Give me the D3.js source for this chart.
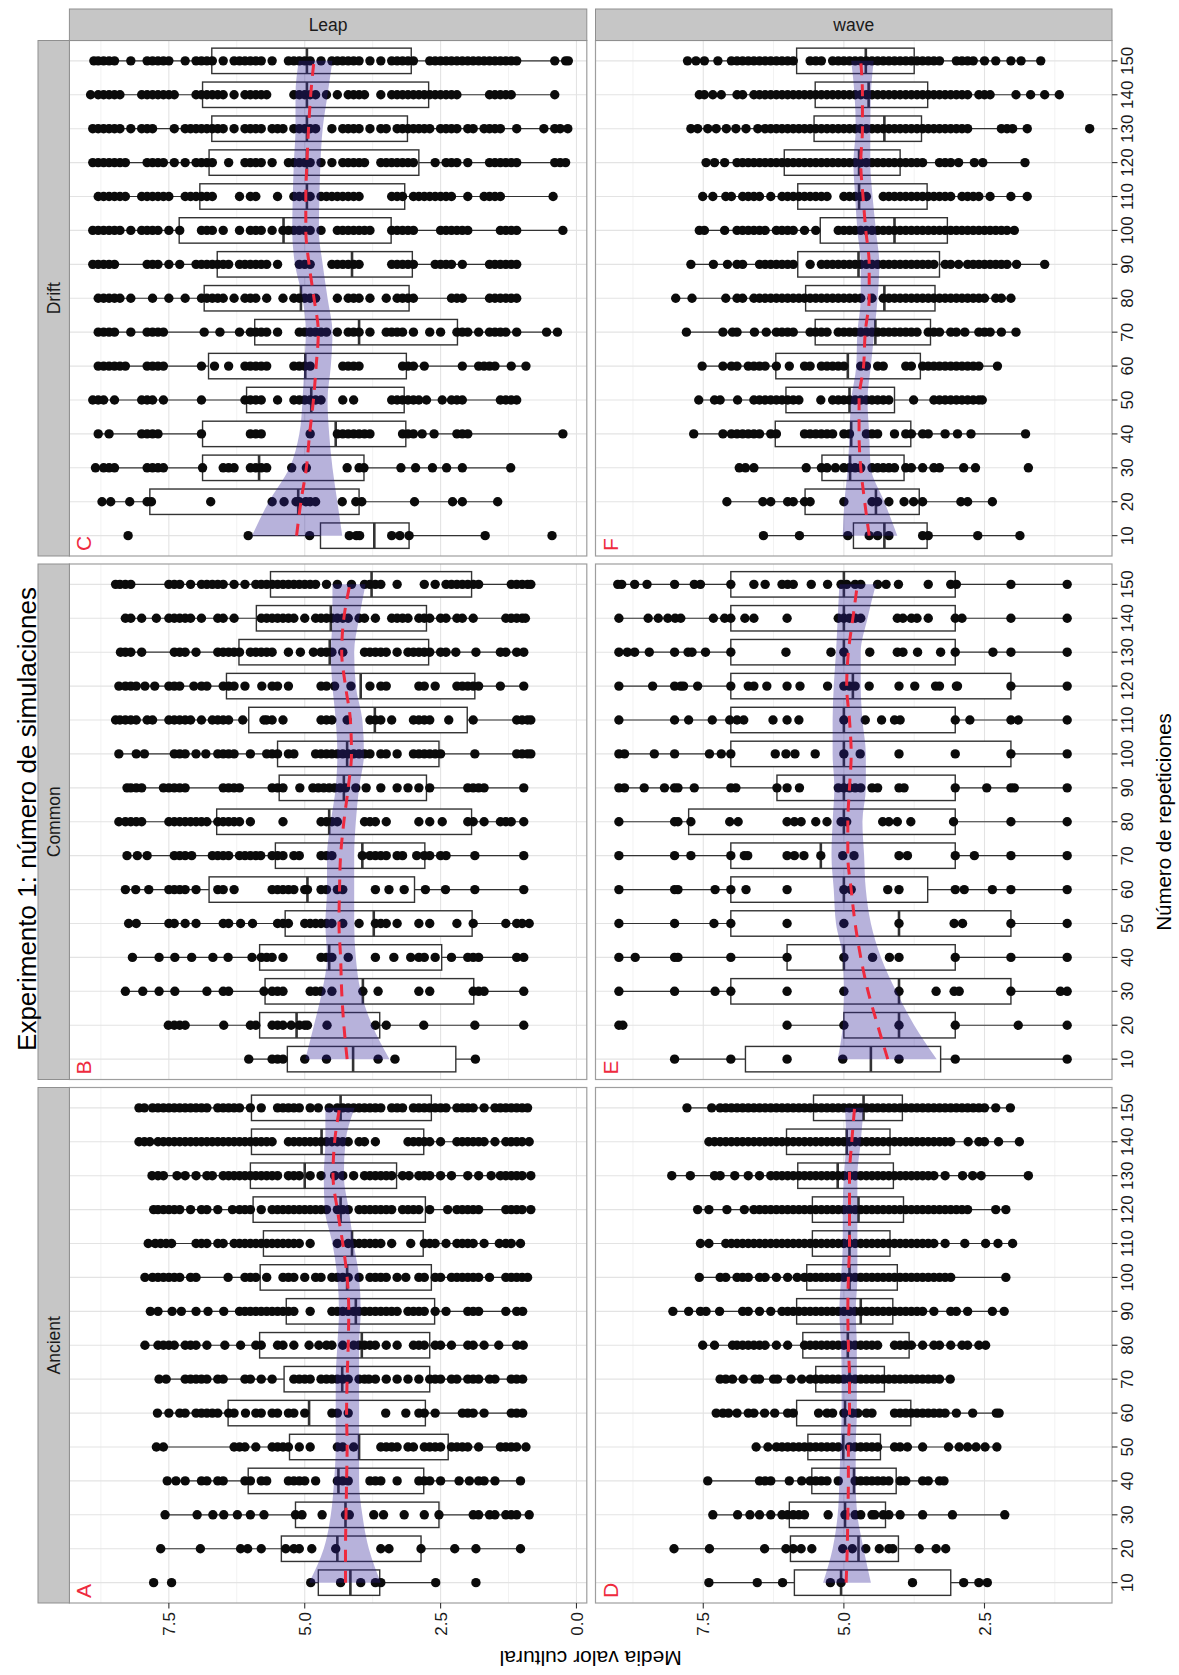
<!DOCTYPE html>
<html><head><meta charset="utf-8">
<script src="https://cdn.jsdelivr.net/npm/d3@7"></script>
<style>
body{margin:0;background:#fff}
svg{display:block}
text{font-family:"Liberation Sans",Arial,Helvetica,sans-serif}
</style>
</head><body>
<svg id="chart" width="1179" height="1675"></svg>
<script>
// ---------------- DATA ----------------
const reps = [10,20,30,40,50,60,70,80,90,100,110,120,130,140,150];
const facetCols = ["Ancient","Common","Drift"];
const facetRows = ["Leap","wave"];
const panelLetters = [["A","B","C"],["D","E","F"]];
const title = "Experimento 1: número de simulaciones";
const xTitle = "Número de repeticiones";
const yTitle = "Media valor cultural";
const leapTicks = [0,2.5,5,7.5];
const waveTicks = [2.5,5,7.5];
const leapMinor = [1.25,3.75,6.25,8.75];
const waveMinor = [1.25,3.75,6.25,8.75];

// box stats per rep: [lower whisker, Q1, median, Q3, upper whisker]
const boxA = [[2.59,3.62,4.16,4.75,4.89],[1.03,2.86,4.40,5.43,7.65],[0.87,2.53,4.25,5.17,7.57],[1.03,2.81,4.38,6.04,7.53],[0.93,2.36,4.00,5.28,7.73],[0.99,2.78,4.92,6.41,7.71],[0.99,2.70,4.31,5.38,7.68],[0.98,2.70,3.95,5.83,7.94],[0.99,2.61,4.06,5.34,7.84],[0.90,2.67,4.22,5.82,7.94],[1.03,2.82,4.13,5.76,7.88],[0.84,2.78,4.34,5.95,7.78],[0.84,3.31,5.00,6.00,7.81],[0.87,2.81,4.69,5.98,8.05],[0.87,2.67,4.34,5.98,8.05]];
const boxB = [[1.86,2.22,4.11,5.32,6.03],[0.97,3.62,5.15,5.83,7.51],[0.97,1.89,3.93,5.73,8.30],[0.97,2.48,4.55,5.83,8.17],[0.87,1.92,3.73,5.36,8.24],[0.97,2.98,4.95,6.76,8.30],[0.97,2.79,3.94,5.54,8.27],[0.97,1.93,4.55,6.62,8.42],[0.97,2.76,4.28,5.47,8.27],[0.84,2.53,4.22,5.50,8.42],[0.84,2.01,3.71,6.03,8.48],[0.97,1.87,3.97,6.44,8.42],[0.97,2.72,4.54,6.21,8.39],[0.94,2.76,4.52,5.89,8.30],[0.84,1.93,3.77,5.63,8.48]];
const boxC = [[1.68,3.08,3.72,4.71,6.04],[1.45,4.00,5.12,7.85,8.73],[1.21,3.91,5.84,6.88,8.85],[0.25,3.14,4.43,6.88,8.82],[1.05,3.17,4.88,6.07,8.91],[0.93,3.13,4.99,6.77,8.85],[0.35,2.19,4.00,5.92,8.85],[1.05,3.08,5.07,6.85,8.85],[1.05,3.02,4.13,6.61,8.91],[0.25,3.41,5.39,7.31,8.91],[0.43,3.16,4.96,6.93,8.85],[0.20,2.90,4.96,6.76,8.91],[0.16,3.11,4.96,6.71,8.91],[0.40,2.72,4.96,6.88,8.94],[0.15,3.04,4.96,6.71,8.88]];
const boxD = [[2.45,3.10,5.05,5.88,7.40],[3.19,4.03,4.74,5.95,8.02],[2.14,4.26,4.98,5.97,7.33],[3.22,4.07,4.82,5.57,7.42],[2.28,4.35,5.01,5.64,6.56],[2.24,3.81,4.98,5.84,7.27],[3.11,4.28,4.90,5.50,7.20],[2.48,3.84,4.93,5.73,7.51],[2.15,4.13,4.70,5.84,8.04],[2.12,4.05,4.90,5.66,7.57],[2.00,4.18,4.90,5.56,7.55],[2.12,3.94,4.74,5.56,7.60],[1.72,4.12,5.11,5.82,8.06],[1.88,4.18,4.95,6.02,7.40],[2.04,3.96,4.65,5.54,7.79]];
const boxE = [[1.03,3.28,4.52,6.75,8.01],[1.03,3.02,4.02,5.00,6.01],[1.03,2.03,4.02,7.01,9.00],[1.03,3.02,5.00,6.01,9.00],[1.03,2.03,4.02,7.01,9.00],[1.03,3.51,5.00,7.01,9.00],[1.03,3.02,5.41,7.01,9.00],[1.03,3.02,5.00,7.76,9.00],[1.03,3.02,5.00,6.19,9.00],[1.03,2.03,5.00,7.01,9.00],[1.03,3.02,5.00,7.01,9.00],[1.03,2.03,4.84,7.01,9.00],[1.03,3.02,5.00,7.01,9.00],[1.03,3.02,5.00,7.01,9.00],[1.03,3.02,5.00,7.01,9.02]];
const boxF = [[1.87,3.52,4.28,4.83,6.43],[2.36,3.66,4.43,5.69,7.08],[2.66,3.93,4.89,5.39,6.86],[1.77,3.81,4.87,6.22,7.67],[2.54,4.10,4.90,6.03,7.58],[2.27,3.64,4.93,6.21,7.52],[1.94,3.46,4.44,5.51,7.80],[2.03,3.38,4.28,5.68,7.99],[1.43,3.30,4.74,5.82,7.72],[1.97,3.16,4.10,5.42,7.57],[1.74,3.52,4.73,5.82,7.51],[1.78,4.00,4.73,6.06,7.45],[1.74,3.62,4.28,5.53,7.72],[1.17,3.51,4.56,5.51,7.57],[1.50,3.75,4.61,5.84,7.78]];

// individual simulation means per rep
const pointsA = [
[7.78,7.45,4.89,4.34,3.97,3.7,3.6,2.59,1.85],
[7.65,6.92,6.18,6.05,5.8,5.35,5.2,5.1,4.87,4.43,3.6,3.45,2.86,2.24,1.85,1.03],
[7.57,6.98,6.69,6.49,6.24,6.0,5.75,5.17,5.05,4.68,4.25,4.18,3.73,3.55,3.17,2.8,2.53,1.9,1.8,1.6,1.5,1.3,1.2,1.1,0.87],
[7.53,7.37,7.2,6.9,6.8,6.6,6.5,6.1,6.0,5.8,5.7,5.3,5.2,5.1,5.0,4.8,4.4,4.3,4.2,3.8,3.7,3.6,3.3,2.9,2.8,2.7,2.5,2.16,1.97,1.8,1.7,1.5,1.03],
[7.73,7.6,6.3,6.2,6.1,5.9,5.6,5.5,5.4,5.3,5.1,4.9,4.4,4.3,4.1,3.6,3.5,3.4,3.3,3.1,3.0,2.8,2.7,2.6,2.5,2.3,2.2,2.1,2.0,1.8,1.4,1.3,1.2,1.1,0.93],
[7.71,7.5,7.3,7.2,7.0,6.9,6.8,6.7,6.6,6.4,6.3,6.09,5.9,5.8,5.6,5.5,5.3,5.2,5.0,4.5,4.4,4.2,3.51,3.14,2.9,2.8,2.6,2.1,2.0,1.9,1.7,1.2,1.1,0.99],
[7.68,7.55,7.2,7.1,7.0,6.9,6.8,6.6,6.5,6.1,6.0,5.8,5.6,5.2,5.1,5.0,4.9,4.7,4.6,4.5,4.4,4.3,4.2,4.0,3.9,3.82,3.7,3.5,3.3,3.1,2.9,2.7,2.6,2.5,2.3,2.2,2.0,1.9,1.8,1.6,1.5,1.2,1.1,0.99],
[7.94,7.7,7.6,7.5,7.4,7.2,7.1,7.0,6.8,6.47,6.18,5.9,5.8,5.5,5.4,5.2,4.92,4.74,4.6,4.5,4.3,4.1,4.0,3.9,3.8,3.7,3.5,3.3,3.0,2.9,2.8,2.6,2.5,2.3,2.0,1.9,1.7,1.43,1.1,0.98],
[7.84,7.7,7.44,7.27,7.0,6.78,6.49,6.2,6.1,6.0,5.9,5.8,5.7,5.6,5.5,5.4,5.3,5.2,4.9,4.5,4.4,4.3,4.2,4.1,4.0,3.9,3.8,3.7,3.6,3.5,3.4,3.3,3.1,3.0,2.9,2.8,2.6,2.4,2.0,1.9,1.8,1.3,1.1,0.99],
[7.94,7.8,7.7,7.6,7.5,7.4,7.3,7.1,7.0,6.41,6.1,6.0,5.9,5.7,5.4,5.3,5.2,5.0,4.8,4.7,4.5,4.4,4.3,4.2,4.0,3.8,3.7,3.6,3.5,3.3,3.14,2.9,2.8,2.6,2.5,2.3,2.2,2.1,2.0,1.9,1.8,1.6,1.3,1.2,1.1,1.0,0.9],
[7.88,7.75,7.65,7.55,7.45,7.0,6.9,6.8,6.6,6.5,6.3,6.2,6.1,6.0,5.9,5.8,5.7,5.6,5.5,5.4,5.3,5.2,5.1,4.9,4.4,4.2,4.1,4.0,3.9,3.8,3.7,3.6,3.4,3.05,2.8,2.7,2.6,2.4,2.2,2.1,2.0,1.9,1.7,1.42,1.3,1.2,1.03],
[7.78,7.7,7.6,7.5,7.4,7.3,7.1,6.9,6.8,6.6,6.33,6.2,6.1,6.0,5.8,5.6,5.5,5.4,5.3,5.2,5.1,5.0,4.9,4.8,4.7,4.6,4.4,4.3,4.2,4.0,3.9,3.8,3.7,3.6,3.5,3.4,3.2,3.1,3.0,2.9,2.7,2.37,2.2,2.1,2.0,1.9,1.8,1.3,1.2,1.1,1.0,0.84],
[7.81,7.7,7.6,7.35,7.2,7.0,6.8,6.7,6.5,6.4,6.3,6.2,6.1,6.0,5.9,5.8,5.7,5.6,5.5,5.3,5.2,5.1,4.9,4.7,4.45,4.3,4.1,3.9,3.8,3.7,3.6,3.5,3.4,3.2,3.08,2.9,2.8,2.7,2.5,2.3,2.0,1.8,1.57,1.4,1.3,1.2,1.1,1.0,0.84],
[8.05,7.95,7.85,7.7,7.6,7.5,7.4,7.3,7.2,7.1,7.0,6.9,6.8,6.7,6.6,6.5,6.4,6.3,6.2,6.1,6.0,5.9,5.8,5.7,5.6,5.3,5.2,5.1,5.0,4.9,4.8,4.7,4.6,4.5,4.4,4.3,4.2,4.0,3.9,3.7,3.1,3.0,2.9,2.8,2.7,2.5,2.2,2.1,2.0,1.9,1.8,1.7,1.5,1.3,1.2,1.1,1.0,0.87],
[8.05,7.95,7.8,7.7,7.6,7.5,7.4,7.3,7.2,7.1,7.0,6.9,6.8,6.6,6.5,6.4,6.3,6.2,6.0,5.8,5.5,5.4,5.3,5.2,5.1,4.9,4.75,4.55,4.4,4.3,4.2,4.1,4.0,3.9,3.8,3.7,3.6,3.4,3.3,3.2,3.0,2.9,2.8,2.7,2.6,2.5,2.4,2.2,2.1,2.0,1.9,1.7,1.5,1.4,1.3,1.2,1.1,1.0,0.9]
];
const pointsB = [
[6.03,5.6,5.5,5.4,5.0,4.6,3.65,3.34,1.86],
[7.51,7.4,7.3,7.2,6.49,6.0,5.9,5.6,5.5,5.4,5.25,5.1,5.0,4.95,4.59,3.7,3.5,2.81,1.87,0.97],
[8.3,7.98,7.68,7.39,6.8,6.5,6.4,5.75,5.6,5.5,5.4,4.9,4.8,4.7,4.5,3.93,3.65,2.9,2.7,1.9,1.8,1.7,0.97],
[8.17,7.68,7.39,7.08,6.69,6.41,5.97,5.8,5.7,5.6,5.4,4.7,4.6,4.5,4.2,3.7,3.36,3.05,2.9,2.8,2.6,2.3,2.0,1.9,1.8,1.1,0.97],
[8.24,8.1,7.5,7.4,7.2,7.0,6.5,6.4,6.18,5.96,5.5,5.4,5.3,5.0,4.9,4.8,4.7,4.6,4.5,4.3,4.0,3.7,3.6,3.5,3.3,2.9,2.7,2.2,1.9,1.3,1.1,1.0,0.87],
[8.3,8.11,7.87,7.5,7.4,7.3,7.2,7.0,6.6,6.5,6.3,5.6,5.5,5.4,5.3,5.2,5.0,4.95,4.7,4.6,4.4,4.3,3.7,3.45,3.17,2.78,2.41,1.87,0.97],
[8.27,8.08,7.9,7.4,7.3,7.2,7.08,6.7,6.6,6.5,6.4,6.2,6.1,6.0,5.9,5.81,5.6,5.5,5.4,5.2,5.1,4.7,4.6,4.5,3.94,3.8,3.7,3.6,3.5,3.3,3.2,2.94,2.8,2.7,2.5,2.4,1.87,0.97],
[8.42,8.3,8.2,8.1,8.0,7.5,7.4,7.3,7.2,7.1,7.0,6.9,6.8,6.6,6.5,6.4,6.3,6.2,6.0,5.4,4.7,4.6,4.5,4.4,3.9,3.8,3.7,3.5,2.9,2.7,2.47,2.0,1.9,1.7,1.4,1.3,1.2,0.97],
[8.27,8.2,8.1,8.0,7.6,7.5,7.4,7.3,7.2,6.5,6.4,6.3,6.2,5.6,5.5,5.4,5.09,4.85,4.75,4.65,4.55,4.45,4.35,4.25,4.06,3.87,3.6,3.3,3.1,2.9,2.7,2.0,1.9,1.8,1.7,0.97],
[8.42,8.1,7.95,7.4,7.3,7.2,7.0,6.82,6.6,6.5,6.4,6.3,6.0,5.7,5.6,5.5,5.3,5.2,4.8,4.7,4.6,4.5,4.4,4.3,4.2,4.1,4.0,3.9,3.8,3.6,3.5,3.3,3.0,2.9,2.8,2.7,2.6,2.5,1.87,1.1,1.0,0.9,0.84],
[8.48,8.4,8.3,8.2,8.1,7.9,7.8,7.5,7.4,7.3,7.2,7.1,6.9,6.7,6.6,6.5,6.4,6.14,5.75,5.7,5.6,5.4,4.7,4.6,4.5,4.22,3.8,3.7,3.6,3.4,3.0,2.9,2.8,2.7,2.35,1.9,1.1,1.0,0.9,0.84],
[8.42,8.3,8.2,8.1,7.94,7.76,7.5,7.4,7.3,7.04,6.9,6.8,6.5,6.4,6.3,6.1,5.79,5.6,5.5,5.3,4.7,4.6,4.45,4.15,3.8,3.6,3.5,2.9,2.8,2.6,2.2,2.1,2.0,1.9,1.8,1.4,0.97],
[8.39,8.3,8.2,8.0,7.4,7.3,7.2,7.0,6.6,6.5,6.4,6.3,6.2,6.0,5.9,5.8,5.7,5.6,5.3,5.08,4.84,4.7,4.6,4.5,4.3,3.9,3.8,3.7,3.6,3.5,3.3,3.1,3.0,2.9,2.8,2.7,2.5,2.4,2.22,1.85,1.4,1.3,1.1,0.97],
[8.3,8.2,8.0,7.73,7.5,7.4,7.3,7.2,7.1,6.9,6.6,6.5,6.3,5.8,5.7,5.6,5.5,5.4,5.3,5.2,5.0,4.8,4.7,4.6,4.5,4.4,4.3,4.2,4.0,3.9,3.7,3.4,3.3,3.2,3.1,2.9,2.8,2.7,2.5,2.4,2.2,2.1,1.9,1.3,1.2,1.1,1.0,0.94],
[8.48,8.4,8.3,8.2,7.5,7.4,7.3,7.1,6.9,6.8,6.7,6.6,6.5,6.3,6.1,5.9,5.8,5.7,5.6,5.5,5.4,5.3,5.2,5.1,5.0,4.9,4.8,4.6,4.4,4.14,3.9,3.8,3.7,3.6,3.3,2.8,2.6,2.4,2.3,2.2,2.1,2.0,1.9,1.8,1.2,1.1,1.0,0.9,0.84]
];
const pointsC = [
[8.25,6.04,4.91,4.18,4.05,3.99,3.4,3.25,3.08,1.68,0.45],
[8.73,8.57,8.22,7.9,7.82,6.73,5.6,5.38,5.16,5.1,4.98,4.9,4.8,4.31,4.06,3.95,2.98,2.28,2.1,1.45],
[8.85,8.7,8.6,8.5,7.9,7.8,7.7,7.6,6.88,6.5,6.4,6.3,6.0,5.9,5.8,5.7,5.24,4.97,4.22,4.0,3.91,3.23,2.96,2.65,2.39,2.1,1.21],
[8.8,8.6,8.0,7.9,7.8,7.7,6.9,6.0,5.9,5.8,4.9,4.4,4.3,4.2,4.1,4.0,3.9,3.8,3.2,3.1,3.0,2.84,2.62,2.2,2.1,2.0,0.25],
[8.9,8.8,8.7,8.5,8.0,7.9,7.8,7.6,6.9,6.1,6.0,5.9,5.8,5.5,5.2,5.1,5.0,4.9,4.8,4.7,4.3,4.1,3.4,3.3,3.2,3.1,3.0,2.9,2.76,2.47,2.3,2.2,2.1,1.4,1.3,1.2,1.1],
[8.8,8.7,8.6,8.5,8.4,8.3,7.9,7.8,7.7,7.6,6.9,6.66,6.4,6.1,6.0,5.9,5.8,5.7,5.2,5.1,5.0,4.9,4.3,4.2,4.1,4.0,3.2,3.1,3.0,2.8,2.1,1.8,1.7,1.6,1.5,1.2,0.93],
[8.8,8.7,8.6,8.5,8.2,7.9,7.8,7.7,7.6,6.85,6.56,6.2,6.0,5.9,5.8,5.7,5.5,5.1,5.0,4.9,4.8,4.7,4.6,4.4,4.2,4.1,4.0,3.8,3.5,3.4,3.3,3.2,3.0,2.7,2.5,2.2,2.1,2.0,1.8,1.6,1.5,1.4,1.3,1.1,0.55,0.35],
[8.8,8.7,8.6,8.5,8.4,8.2,7.8,7.5,7.2,6.9,6.8,6.7,6.6,6.5,6.3,6.1,6.0,5.9,5.7,5.4,5.2,5.1,5.0,4.9,4.8,4.4,4.2,4.1,4.0,3.8,3.5,3.3,3.2,3.1,3.0,2.3,2.2,2.1,1.6,1.5,1.4,1.3,1.2,1.1],
[8.9,8.8,8.7,8.6,8.5,7.9,7.8,7.7,7.5,7.3,7.0,6.9,6.8,6.7,6.6,6.5,6.4,6.2,6.1,6.0,5.9,5.8,5.7,5.5,5.1,5.0,4.9,4.5,4.4,4.3,4.2,4.1,4.0,3.4,3.3,3.2,3.1,3.0,2.6,2.5,2.4,2.3,2.1,1.6,1.5,1.4,1.3,1.2,1.1],
[8.9,8.8,8.7,8.6,8.5,8.4,8.2,8.0,7.9,7.8,7.7,7.5,7.3,6.9,6.8,6.7,6.5,6.2,6.0,5.9,5.8,5.6,5.4,5.3,5.2,5.1,5.0,4.9,4.7,4.4,4.3,4.2,4.1,4.0,3.9,3.8,3.4,3.3,3.2,3.1,3.0,2.5,2.4,2.3,2.2,2.1,2.0,1.4,1.3,1.2,1.1,0.25],
[8.8,8.7,8.6,8.5,8.4,8.3,8.0,7.9,7.8,7.7,7.6,7.5,7.2,7.1,7.0,6.9,6.8,6.7,6.2,6.0,5.9,5.5,5.2,5.1,5.0,4.9,4.7,4.6,4.5,4.4,4.3,4.2,4.1,4.0,3.4,3.3,3.2,3.0,2.9,2.8,2.7,2.6,2.5,2.4,2.3,2.0,1.7,1.6,1.5,1.4,0.43],
[8.9,8.8,8.7,8.6,8.5,8.4,8.3,7.9,7.8,7.7,7.6,7.4,7.2,7.0,6.9,6.8,6.7,6.4,6.1,6.0,5.9,5.8,5.6,5.3,5.2,5.1,5.0,4.9,4.7,4.5,4.3,4.2,4.1,4.0,3.9,3.6,3.5,3.4,3.3,3.2,3.1,3.0,2.6,2.4,2.3,2.2,2.0,1.6,1.5,1.4,1.3,1.2,1.1,0.4,0.3,0.2],
[8.9,8.8,8.7,8.6,8.5,8.4,8.2,8.0,7.9,7.8,7.4,7.2,7.1,7.0,6.9,6.8,6.7,6.6,6.5,6.3,6.1,6.0,5.9,5.8,5.6,5.5,5.4,5.2,5.1,5.0,4.9,4.8,4.5,4.3,4.2,4.1,4.0,3.8,3.6,3.5,3.3,3.2,3.1,3.0,2.9,2.8,2.7,2.5,2.4,2.3,2.2,2.0,1.9,1.7,1.6,1.5,1.4,1.1,0.6,0.4,0.3,0.16],
[8.94,8.8,8.7,8.6,8.5,8.4,8.0,7.9,7.8,7.7,7.6,7.5,7.4,7.0,6.9,6.8,6.7,6.6,6.5,6.3,6.1,6.0,5.9,5.8,5.7,5.2,5.1,5.0,4.9,4.8,4.6,4.4,4.2,4.1,4.0,3.9,3.6,3.4,3.3,3.2,3.1,3.0,2.9,2.8,2.7,2.6,2.5,2.4,2.3,2.2,1.6,1.5,1.4,1.3,1.2,0.4],
[8.88,8.8,8.7,8.6,8.5,8.2,7.9,7.8,7.7,7.6,7.5,7.2,7.0,6.9,6.8,6.7,6.5,6.3,6.2,6.1,6.0,5.9,5.8,5.6,5.3,5.2,5.1,5.0,4.9,4.7,4.5,4.4,4.3,4.2,4.1,4.0,3.8,3.6,3.4,3.3,3.2,3.1,3.0,2.7,2.6,2.5,2.4,2.3,2.2,2.1,2.0,1.9,1.8,1.7,1.6,1.5,1.4,1.3,1.2,1.1,0.4,0.2,0.15]
];
const pointsD = [
[7.4,6.54,6.09,5.24,5.05,3.78,2.87,2.6,2.45],
[8.02,7.39,6.41,6.03,5.9,5.76,5.57,5.02,4.85,4.61,4.37,4.2,4.13,3.66,3.36,3.19],
[7.33,6.89,6.67,6.5,6.3,6.1,6.0,5.9,5.8,5.7,5.28,4.98,4.8,4.7,4.5,4.45,4.3,4.2,4.0,3.6,3.07,2.14],
[7.42,6.5,6.4,6.3,5.97,5.75,5.6,5.5,5.4,5.3,5.1,4.8,4.7,4.6,4.5,4.4,4.3,4.2,4.0,3.9,3.6,3.5,3.3,3.22],
[6.56,6.35,6.2,6.1,6.0,5.9,5.8,5.7,5.6,5.5,5.4,5.3,5.2,5.1,4.9,4.8,4.7,4.6,4.5,4.4,4.1,4.0,3.87,3.6,3.14,2.95,2.8,2.65,2.49,2.28],
[7.27,7.15,7.05,6.9,6.7,6.6,6.41,6.23,6.0,5.9,5.45,5.3,5.2,5.0,4.85,4.75,4.6,4.5,4.1,4.0,3.9,3.8,3.7,3.6,3.5,3.4,3.3,3.2,3.0,2.71,2.29,2.24],
[7.2,7.1,6.98,6.79,6.58,6.5,6.25,6.18,5.94,5.75,5.6,5.5,5.4,5.3,5.2,5.1,5.0,4.9,4.8,4.7,4.6,4.5,4.4,4.3,4.2,4.1,4.0,3.9,3.8,3.7,3.6,3.5,3.4,3.3,3.11],
[7.51,7.3,6.98,6.9,6.8,6.7,6.6,6.5,6.4,6.2,6.0,5.7,5.6,5.5,5.4,5.3,5.2,5.1,5.0,4.9,4.8,4.7,4.6,4.5,4.4,4.1,4.0,3.9,3.8,3.6,3.4,3.3,3.1,2.9,2.8,2.6,2.48],
[8.04,7.76,7.55,7.45,7.21,6.8,6.7,6.5,6.3,6.1,6.0,5.9,5.8,5.7,5.6,5.5,5.4,5.3,5.2,5.1,5.0,4.9,4.8,4.7,4.6,4.5,4.4,4.3,4.2,4.1,4.0,3.9,3.8,3.7,3.6,3.4,3.1,3.0,2.8,2.36,2.15],
[7.57,7.2,7.1,6.9,6.8,6.7,6.5,6.4,6.2,6.0,5.83,5.7,5.6,5.5,5.4,5.3,5.2,5.1,5.0,4.9,4.8,4.7,4.6,4.5,4.4,4.3,4.2,4.1,4.0,3.9,3.8,3.7,3.6,3.5,3.4,3.3,3.2,3.1,2.12],
[7.55,7.4,7.1,7.0,6.9,6.8,6.7,6.6,6.5,6.4,6.3,6.2,6.1,6.0,5.9,5.8,5.7,5.6,5.5,5.4,5.3,5.2,5.1,5.0,4.9,4.8,4.7,4.6,4.5,4.4,4.3,4.2,4.1,4.0,3.9,3.8,3.7,3.6,3.5,3.4,3.2,2.85,2.48,2.26,2.0],
[7.6,7.4,7.08,6.77,6.6,6.5,6.4,6.3,6.2,6.1,6.0,5.9,5.8,5.7,5.6,5.5,5.4,5.3,5.2,5.1,5.0,4.9,4.8,4.7,4.6,4.5,4.4,4.3,4.2,4.1,4.0,3.9,3.8,3.7,3.6,3.5,3.4,3.3,3.2,3.1,3.0,2.9,2.8,2.3,2.12],
[8.06,7.73,7.3,7.2,6.94,6.7,6.5,6.3,6.2,6.1,6.0,5.9,5.8,5.7,5.6,5.5,5.4,5.3,5.2,5.1,5.0,4.9,4.8,4.7,4.6,4.5,4.4,4.3,4.2,4.1,4.0,3.9,3.8,3.7,3.6,3.5,3.4,3.2,2.89,2.71,2.56,1.72],
[7.4,7.3,7.2,7.1,7.0,6.9,6.8,6.7,6.6,6.5,6.4,6.3,6.2,6.1,6.0,5.9,5.8,5.7,5.6,5.5,5.4,5.3,5.2,5.1,5.0,4.9,4.8,4.7,4.6,4.5,4.4,4.3,4.2,4.1,4.0,3.9,3.8,3.7,3.6,3.5,3.4,3.3,3.2,3.1,2.79,2.6,2.5,2.25,1.88],
[7.79,7.35,7.2,7.1,7.0,6.9,6.8,6.7,6.6,6.5,6.4,6.3,6.2,6.1,6.0,5.9,5.8,5.7,5.6,5.5,5.4,5.3,5.2,5.1,5.0,4.9,4.8,4.7,4.6,4.5,4.4,4.3,4.2,4.1,4.0,3.9,3.8,3.7,3.6,3.5,3.4,3.3,3.2,3.1,3.0,2.9,2.8,2.7,2.6,2.5,2.3,2.04]
];
const pointsE = [
[8.01,7.01,6.01,5.02,4.02,3.02,1.03],
[9.0,8.93,6.01,5.0,4.02,3.02,1.9,1.03],
[9.0,8.01,7.29,7.01,6.01,5.0,4.02,3.36,3.04,2.95,2.03,1.15,1.03],
[9.0,8.71,8.01,7.95,7.01,6.01,5.0,4.49,4.19,4.02,3.02,2.03,1.03],
[9.0,8.01,7.31,7.01,6.01,5.0,4.02,3.04,2.89,2.03,1.03],
[9.0,8.01,7.95,7.29,7.01,6.74,6.01,5.0,4.87,4.22,4.02,3.02,2.86,2.36,2.03,1.03],
[9.0,8.01,7.72,7.01,6.77,6.71,6.01,5.88,5.71,5.41,5.02,4.82,4.02,3.87,3.02,2.68,2.03,1.03],
[9.0,8.01,7.95,7.72,7.03,6.88,6.01,5.88,5.76,5.5,5.3,5.05,4.95,4.31,4.2,4.05,3.81,3.05,2.03,1.03],
[9.0,8.9,8.55,8.19,8.01,7.95,7.66,7.01,6.92,6.19,6.01,5.79,5.1,5.0,4.9,4.8,4.7,4.5,4.4,4.02,3.93,3.02,2.46,2.03,1.97,1.03],
[9.0,8.9,8.37,8.01,7.39,7.18,7.01,6.22,6.03,5.87,5.51,5.0,4.71,4.02,3.02,2.03,1.03],
[9.0,8.01,7.76,7.34,7.03,6.9,6.78,6.26,6.01,5.8,5.0,4.62,4.33,4.1,4.0,3.02,2.76,2.03,1.9,1.03],
[9.0,8.4,8.01,7.9,7.85,7.6,7.01,6.7,6.6,6.37,6.01,5.78,5.29,5.0,4.9,4.8,4.55,4.02,3.74,3.37,3.3,3.0,2.98,2.03,1.03],
[9.0,8.85,8.72,8.46,8.01,7.77,7.7,7.46,7.01,6.03,5.23,5.0,4.54,4.05,3.95,3.69,3.28,3.02,2.35,2.03,1.03],
[9.0,8.48,8.3,8.13,8.0,7.9,7.32,7.12,7.01,6.76,6.6,6.01,5.1,5.0,4.9,4.8,4.7,4.05,3.95,3.8,3.7,3.5,3.02,2.9,2.03,1.03],
[9.02,8.95,8.72,8.5,8.01,7.66,7.55,7.01,6.6,6.4,6.1,6.0,5.9,5.58,5.29,5.05,4.95,4.8,4.7,4.4,4.25,4.03,3.5,3.1,3.0,2.03,1.03]
];
const pointsF = [
[6.43,5.79,4.93,4.55,4.4,4.2,3.6,3.5,2.62,1.87],
[7.08,6.44,6.3,6.0,5.9,5.7,5.6,5.0,4.5,4.4,4.2,3.93,3.76,3.6,2.92,2.8,2.36],
[6.86,6.75,6.6,5.67,5.4,5.3,5.15,5.0,4.9,4.8,4.7,4.5,4.4,4.3,4.2,4.1,3.9,3.8,3.6,3.4,3.3,2.87,2.66,1.72],
[7.67,7.15,7.0,6.9,6.8,6.7,6.6,6.5,6.3,6.2,5.7,5.6,5.5,5.4,5.3,5.2,5.0,4.9,4.6,4.5,4.4,4.1,3.9,3.8,3.6,3.5,3.2,2.98,2.74,1.77],
[7.58,7.3,7.2,6.89,6.6,6.5,6.4,6.3,6.2,6.1,6.0,5.9,5.8,5.41,5.2,5.1,5.0,4.9,4.8,4.7,4.6,4.5,4.4,4.3,4.2,3.76,3.4,3.3,3.2,3.1,3.0,2.9,2.8,2.7,2.6,2.54],
[7.52,7.15,7.0,6.9,6.7,6.6,6.5,6.4,6.2,5.97,5.7,5.6,5.4,5.3,5.2,5.1,5.0,4.7,4.6,4.4,4.3,3.9,3.8,3.6,3.5,3.4,3.3,3.2,3.1,3.0,2.9,2.8,2.7,2.6,2.27],
[7.8,7.15,6.98,6.9,6.59,6.38,6.2,6.1,6.0,5.9,5.6,5.5,5.4,5.3,5.1,5.0,4.9,4.8,4.7,4.6,4.5,4.4,4.3,4.2,4.1,4.0,3.9,3.8,3.7,3.5,3.4,3.3,3.1,3.0,2.85,2.6,2.5,2.4,2.2,1.94],
[7.99,7.7,7.1,6.9,6.8,6.6,6.5,6.4,6.3,6.2,6.1,6.0,5.9,5.8,5.7,5.6,5.5,5.4,5.3,5.2,5.1,5.0,4.9,4.8,4.7,4.5,4.3,4.2,4.1,4.0,3.9,3.8,3.7,3.6,3.5,3.4,3.3,3.2,3.1,3.0,2.9,2.8,2.7,2.6,2.5,2.3,2.2,2.03],
[7.72,7.32,7.07,6.9,6.8,6.5,6.4,6.3,6.2,6.1,6.0,5.9,5.6,5.4,5.3,5.2,5.1,5.0,4.9,4.8,4.7,4.6,4.5,4.4,4.3,4.2,4.1,4.0,3.9,3.8,3.7,3.6,3.5,3.4,3.2,3.1,2.96,2.8,2.7,2.6,2.5,2.4,2.3,2.2,2.1,1.93,1.43],
[7.57,7.48,7.12,6.9,6.8,6.7,6.6,6.5,6.4,6.2,6.1,6.0,5.9,5.7,5.5,5.1,5.0,4.9,4.8,4.7,4.6,4.5,4.4,4.3,4.2,4.1,4.0,3.9,3.8,3.7,3.6,3.5,3.4,3.3,3.2,3.1,3.0,2.9,2.8,2.7,2.6,2.5,2.4,2.3,2.2,2.1,1.97],
[7.51,7.33,7.1,7.0,6.8,6.7,6.6,6.5,6.3,6.1,6.0,5.9,5.8,5.7,5.6,5.5,5.4,5.3,5.0,4.9,4.8,4.7,4.6,4.3,4.2,4.1,4.0,3.9,3.8,3.7,3.6,3.5,3.4,3.3,3.2,3.1,2.9,2.8,2.7,2.6,2.4,2.03,1.74],
[7.45,7.3,7.12,6.9,6.8,6.7,6.6,6.5,6.4,6.3,6.2,6.1,6.0,5.9,5.8,5.7,5.6,5.5,5.4,5.3,5.2,5.1,5.0,4.9,4.8,4.7,4.6,4.5,4.4,4.3,4.2,4.1,4.0,3.9,3.8,3.7,3.6,3.3,3.2,3.1,2.96,2.68,2.53,1.78],
[7.72,7.6,7.42,7.27,7.09,6.92,6.74,6.53,6.4,6.3,6.2,6.1,6.0,5.9,5.8,5.7,5.6,5.5,5.4,5.3,5.2,5.1,5.0,4.9,4.8,4.7,4.6,4.5,4.4,4.3,4.2,4.1,4.0,3.9,3.8,3.7,3.6,3.5,3.4,3.3,3.2,3.1,3.0,2.9,2.8,2.2,2.1,2.0,1.74,0.63],
[7.57,7.48,7.33,7.18,6.9,6.8,6.6,6.5,6.4,6.3,6.2,6.1,6.0,5.9,5.8,5.7,5.6,5.5,5.4,5.3,5.2,5.1,5.0,4.9,4.8,4.7,4.6,4.5,4.4,4.3,4.2,4.1,4.0,3.9,3.8,3.7,3.6,3.5,3.4,3.3,3.2,3.1,3.0,2.9,2.8,2.6,2.5,2.4,1.94,1.68,1.43,1.17],
[7.78,7.63,7.48,7.24,7.0,6.9,6.8,6.7,6.6,6.5,6.4,6.3,6.2,6.1,6.0,5.9,5.6,5.5,5.4,5.2,5.1,5.0,4.9,4.8,4.7,4.6,4.5,4.4,4.3,4.2,4.1,4.0,3.9,3.8,3.7,3.6,3.5,3.4,3.3,3.0,2.9,2.8,2.7,2.5,2.3,2.03,1.85,1.5]
];

// smoothed trend (loess fit) with its confidence band, per rep
const fitA = [4.25,4.25,4.24,4.23,4.22,4.23,4.22,4.20,4.19,4.22,4.30,4.40,4.48,4.45,4.36];
const lowA = [3.60,3.82,3.94,4.00,4.00,4.00,4.00,4.00,3.97,4.00,4.10,4.19,4.28,4.25,4.08];
const highA = [4.92,4.65,4.52,4.46,4.43,4.43,4.43,4.40,4.37,4.40,4.49,4.63,4.65,4.62,4.62];
const fitB = [4.22,4.28,4.32,4.34,4.37,4.36,4.34,4.28,4.20,4.14,4.16,4.25,4.32,4.28,4.17];
const lowB = [3.44,3.76,3.97,4.06,4.09,4.09,4.09,4.06,4.00,3.91,3.94,4.06,4.09,4.00,3.88];
const highB = [4.99,4.83,4.68,4.59,4.62,4.59,4.59,4.52,4.43,4.40,4.43,4.49,4.52,4.49,4.49];
const fitC = [5.15,5.07,4.97,4.91,4.84,4.79,4.75,4.83,4.92,4.98,4.98,4.96,4.93,4.89,4.83];
const lowC = [4.31,4.40,4.49,4.55,4.58,4.52,4.49,4.58,4.67,4.74,4.73,4.71,4.67,4.58,4.49];
const highC = [5.97,5.66,5.28,5.10,5.04,5.01,4.98,5.04,5.18,5.23,5.22,5.20,5.17,5.17,5.11];
const fitD = [4.96,4.94,4.93,4.92,4.92,4.90,4.90,4.92,4.93,4.92,4.90,4.90,4.90,4.86,4.81];
const lowD = [4.52,4.65,4.76,4.79,4.79,4.77,4.77,4.77,4.79,4.76,4.76,4.76,4.76,4.70,4.65];
const highD = [5.37,5.20,5.11,5.08,5.06,5.04,5.04,5.05,5.08,5.05,5.02,5.02,5.00,4.96,4.98];
const fitE = [4.22,4.40,4.57,4.70,4.80,4.87,4.93,4.93,4.90,4.87,4.90,4.95,4.92,4.84,4.76];
const lowE = [3.35,3.75,4.07,4.34,4.52,4.61,4.64,4.67,4.61,4.61,4.67,4.70,4.70,4.58,4.43];
const highE = [5.11,5.02,5.00,5.02,5.14,5.18,5.22,5.20,5.17,5.20,5.20,5.18,5.14,5.11,5.08];
const fitF = [4.55,4.63,4.70,4.73,4.73,4.65,4.62,4.55,4.55,4.61,4.66,4.70,4.67,4.67,4.70];
const lowF = [4.05,4.28,4.52,4.55,4.58,4.52,4.46,4.40,4.37,4.43,4.49,4.53,4.53,4.52,4.47];
const highF = [5.02,4.99,4.93,4.90,4.87,4.78,4.76,4.70,4.70,4.76,4.80,4.83,4.79,4.81,4.87];

// ---------------- LAYOUT (unrotated frame, then rotated -90deg) ----------------
const W = 1675, H = 1179;
const colX = [[72,587.5],[595.5,1111],[1119,1634.5]];
const rowY = [[69.4,586.8],[595.5,1112]];
const yDomains = [[-0.19,9.33],[0.233,9.416]];
const rowTicks = [leapTicks, waveTicks];
const rowMinor = [leapMinor, waveMinor];

const panels = [
  {c:0,r:0,box:boxA,pts:pointsA,fit:fitA,lo:lowA,hi:highA},
  {c:1,r:0,box:boxB,pts:pointsB,fit:fitB,lo:lowB,hi:highB},
  {c:2,r:0,box:boxC,pts:pointsC,fit:fitC,lo:lowC,hi:highC},
  {c:0,r:1,box:boxD,pts:pointsD,fit:fitD,lo:lowD,hi:highD},
  {c:1,r:1,box:boxE,pts:pointsE,fit:fitE,lo:lowE,hi:highE},
  {c:2,r:1,box:boxF,pts:pointsF,fit:fitF,lo:lowF,hi:highF}
];

const svg = d3.select("#chart");
svg.append("rect").attr("width",1179).attr("height",1675).attr("fill","#fff");
const g = svg.append("g").attr("transform",`translate(0,${W}) rotate(-90)`);

const xScales = colX.map(([a,b]) => d3.scalePoint().domain(reps).range([a,b]).padding(0.6));
const yScales = rowY.map(([a,b],i) => d3.scaleLinear().domain(yDomains[i]).range([b,a]));

const INK = "#333333";
const RED = "#ee2a3e";

panels.forEach(p => {
  const xs = xScales[p.c], ys = yScales[p.r];
  const [x0,x1] = colX[p.c], [y0,y1] = rowY[p.r];
  const pg = g.append("g");
  pg.append("rect").attr("x",x0).attr("y",y0).attr("width",x1-x0).attr("height",y1-y0).attr("fill","#fff");
  pg.selectAll(".mn").data(rowMinor[p.r].filter(v => ys(v) > y0 && ys(v) < y1)).enter().append("line")
    .attr("x1",x0).attr("x2",x1).attr("y1",d=>ys(d)).attr("y2",d=>ys(d))
    .attr("stroke","#f2f2f2").attr("stroke-width",1);
  pg.selectAll(".mj").data(rowTicks[p.r]).enter().append("line")
    .attr("x1",x0).attr("x2",x1).attr("y1",d=>ys(d)).attr("y2",d=>ys(d))
    .attr("stroke","#e3e3e3").attr("stroke-width",1.1);
  pg.selectAll(".vg").data(reps).enter().append("line")
    .attr("x1",d=>xs(d)).attr("x2",d=>xs(d)).attr("y1",y0).attr("y2",y1)
    .attr("stroke","#e3e3e3").attr("stroke-width",1.1);

  const hw = xs.step()*0.375;
  reps.forEach((r,i) => {
    const [wl,q1,md,q3,wh] = p.box[i];
    const cx = xs(r);
    pg.append("line").attr("x1",cx).attr("x2",cx).attr("y1",ys(wh)).attr("y2",ys(q3))
      .attr("stroke",INK).attr("stroke-width",1.2);
    pg.append("line").attr("x1",cx).attr("x2",cx).attr("y1",ys(q1)).attr("y2",ys(wl))
      .attr("stroke",INK).attr("stroke-width",1.2);
    pg.append("rect").attr("x",cx-hw).attr("width",2*hw).attr("y",ys(q3)).attr("height",ys(q1)-ys(q3))
      .attr("fill","#fff").attr("stroke",INK).attr("stroke-width",1.4);
    pg.append("line").attr("x1",cx-hw).attr("x2",cx+hw).attr("y1",ys(md)).attr("y2",ys(md))
      .attr("stroke",INK).attr("stroke-width",2.6);
  });
  reps.forEach((r,i) => {
    pg.selectAll(null).data(p.pts[i]).enter().append("circle")
      .attr("cx",xs(r)).attr("cy",d=>ys(d)).attr("r",4.7).attr("fill","#0b0b0b");
  });
  const band = reps.map((r,i)=>({x:xs(r),lo:ys(p.lo[i]),hi:ys(p.hi[i]),f:ys(p.fit[i])}));
  pg.append("path").datum(band)
    .attr("d", d3.area().x(d=>d.x).y0(d=>d.lo).y1(d=>d.hi).curve(d3.curveMonotoneX))
    .attr("fill","rgba(45,30,150,0.34)");
  pg.append("path").datum(band)
    .attr("d", d3.line().x(d=>d.x).y(d=>d.f).curve(d3.curveMonotoneX))
    .attr("fill","none").attr("stroke",RED).attr("stroke-width",3).attr("stroke-dasharray","12,9");
  pg.append("text").attr("x",x0+5).attr("y",y0+22).attr("font-size",21).attr("fill",RED)
    .text(panelLetters[p.r][p.c]);
  pg.append("rect").attr("x",x0).attr("y",y0).attr("width",x1-x0).attr("height",y1-y0)
    .attr("fill","none").attr("stroke","#9e9e9e").attr("stroke-width",1.2);
});

facetCols.forEach((lab,c) => {
  const [x0,x1] = colX[c];
  g.append("rect").attr("x",x0).attr("y",38).attr("width",x1-x0).attr("height",31.4)
    .attr("fill","#c6c6c6").attr("stroke","#8f8f8f").attr("stroke-width",1);
  g.append("text").attr("x",(x0+x1)/2).attr("y",53.7).attr("dy","0.35em").attr("text-anchor","middle")
    .attr("font-size",17.5).attr("fill","#1a1a1a").text(lab);
});
facetRows.forEach((lab,r) => {
  const [y0,y1] = rowY[r];
  g.append("rect").attr("x",1634.5).attr("y",y0).attr("width",31.5).attr("height",y1-y0)
    .attr("fill","#c6c6c6").attr("stroke","#8f8f8f").attr("stroke-width",1);
  g.append("text").attr("transform",`translate(1644,${(y0+y1)/2}) rotate(90)`)
    .attr("text-anchor","middle").attr("font-size",17.5).attr("fill","#1a1a1a").text(lab);
});

rowY.forEach((yr,r) => {
  const ys = yScales[r];
  rowTicks[r].forEach(v => {
    g.append("line").attr("x1",66.5).attr("x2",72).attr("y1",ys(v)).attr("y2",ys(v))
      .attr("stroke",INK).attr("stroke-width",1.1);
    g.append("text").attr("x",63).attr("y",ys(v)).attr("dy","0.36em").attr("text-anchor","end")
      .attr("font-size",17).attr("fill","#1a1a1a").text(d3.format(".1f")(v));
  });
});
colX.forEach((xr,c) => {
  const xs = xScales[c];
  reps.forEach(r => {
    g.append("line").attr("x1",xs(r)).attr("x2",xs(r)).attr("y1",1112).attr("y2",1117.5)
      .attr("stroke",INK).attr("stroke-width",1.1);
    g.append("text").attr("x",xs(r)).attr("y",1120).attr("dy","0.74em").attr("text-anchor","middle")
      .attr("font-size",17).attr("fill","#1a1a1a").text(r);
  });
});

g.append("text").attr("x",856).attr("y",36).attr("text-anchor","middle")
  .attr("font-size",26).attr("fill","#000").text(title);
g.append("text").attr("x",853).attr("y",1171).attr("text-anchor","middle")
  .attr("font-size",20.5).attr("fill","#000").text(xTitle);
g.append("text").attr("transform",`translate(24.5,${(rowY[0][0]+rowY[1][1])/2}) rotate(-90)`)
  .attr("text-anchor","middle").attr("font-size",21).attr("fill","#000").text(yTitle);
</script>
</body></html>
